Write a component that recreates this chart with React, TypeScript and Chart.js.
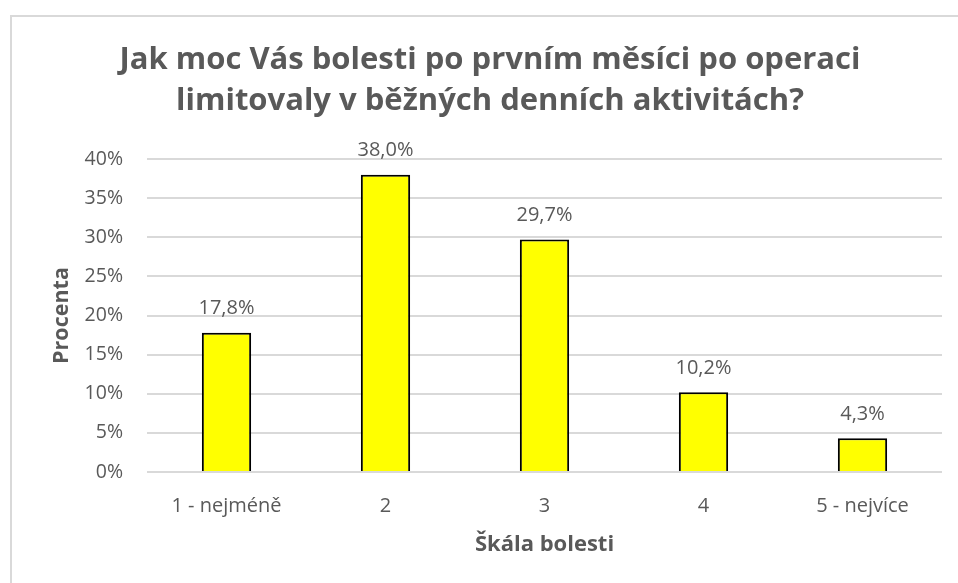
import React, { useEffect, useRef } from "react";
import { Chart, registerables } from "chart.js";

Chart.register(...registerables);

const titleLines = [
  "Jak moc Vás bolesti po prvním měsíci po operaci",
  "limitovaly v běžných denních aktivitách?",
];
const categories = ["1 - nejméně", "2", "3", "4", "5 - nejvíce"];
const percentValues = [17.8, 38.0, 29.7, 10.2, 4.3];
const yTickMax = 40;
const yTickStep = 5;
const xAxisTitle = "Škála bolesti";
const yAxisTitle = "Procenta";

const FONT = "'Open Sans', Lato, sans-serif";
const GRAY = "#595959";

const fmt = (v: number) => v.toFixed(1).replace(".", ",") + "%";

const overlayPlugin = {
  id: "overlayTexts",
  afterDraw(chart: any) {
    const ctx = chart.ctx;
    ctx.save();
    ctx.fillStyle = GRAY;
    ctx.textAlign = "center";
    ctx.textBaseline = "middle";
    ctx.font = `bold 31px ${FONT}`;
    ctx.fillText(titleLines[0], 490, 60);
    ctx.fillText(titleLines[1], 490, 101);
    ctx.font = `20px ${FONT}`;
    const meta = chart.getDatasetMeta(0);
    meta.data.forEach((bar: any, i: number) => {
      ctx.fillText(fmt(percentValues[i]), bar.x, bar.y - 24);
    });
    ctx.restore();
  },
};

export default function App() {
  const ref = useRef<HTMLCanvasElement | null>(null);
  useEffect(() => {
    if (!ref.current) return;
    const chart = new Chart(ref.current, {
      type: "bar",
      data: {
        labels: categories,
        datasets: [
          {
            data: percentValues,
            backgroundColor: "#ffff00",
            borderColor: "#000000",
            borderWidth: 2,
            categoryPercentage: 1,
            barPercentage: 0.31,
          },
        ],
      },
      options: {
        responsive: false,
        animation: false,
        layout: { padding: { left: 10, right: 16, top: 159, bottom: 0 } },
        plugins: {
          legend: { display: false },
          tooltip: { enabled: false },
          title: { display: false },
        },
        scales: {
          x: {
            grid: { display: false, drawTicks: false },
            border: { display: false },
            ticks: {
              color: GRAY,
              font: { family: FONT, size: 20 },
              padding: 22,
              maxRotation: 0,
            },
            title: {
              display: true,
              text: xAxisTitle,
              color: GRAY,
              font: { family: FONT, size: 22, weight: "bold" },
              padding: { top: 0, bottom: 25 },
            },
            afterFit: (s: any) => {
              s.height = 111;
            },
          },
          y: {
            min: 0,
            max: yTickMax,
            grid: { color: "#d9d9d9", lineWidth: 2, drawTicks: false },
            border: { display: false },
            ticks: {
              stepSize: yTickStep,
              color: GRAY,
              font: { family: FONT, size: 19.5 },
              padding: 24,
              callback: (v: any) => v + "%",
            },
            title: {
              display: true,
              text: yAxisTitle,
              color: GRAY,
              font: { family: FONT, size: 21.5, weight: "bold" },
              padding: { top: 39, bottom: 0 },
            },
            afterFit: (s: any) => {
              s.width = 137;
            },
          },
        },
      },
      plugins: [overlayPlugin],
    });
    return () => chart.destroy();
  }, []);
  return (
    <div style={{ position: "fixed", left: 0, top: 0, width: 958, height: 583, overflow: "hidden", background: "#fff" }}>
      <div
        style={{
          position: "absolute",
          left: 10,
          top: 15,
          width: 1000,
          height: 700,
          borderLeft: "2px solid #d9d9d9",
          borderTop: "2px solid #d9d9d9",
        }}
      />
      <canvas ref={ref} width={958} height={583} style={{ position: "absolute", left: 0, top: 0 }} />
    </div>
  );
}
